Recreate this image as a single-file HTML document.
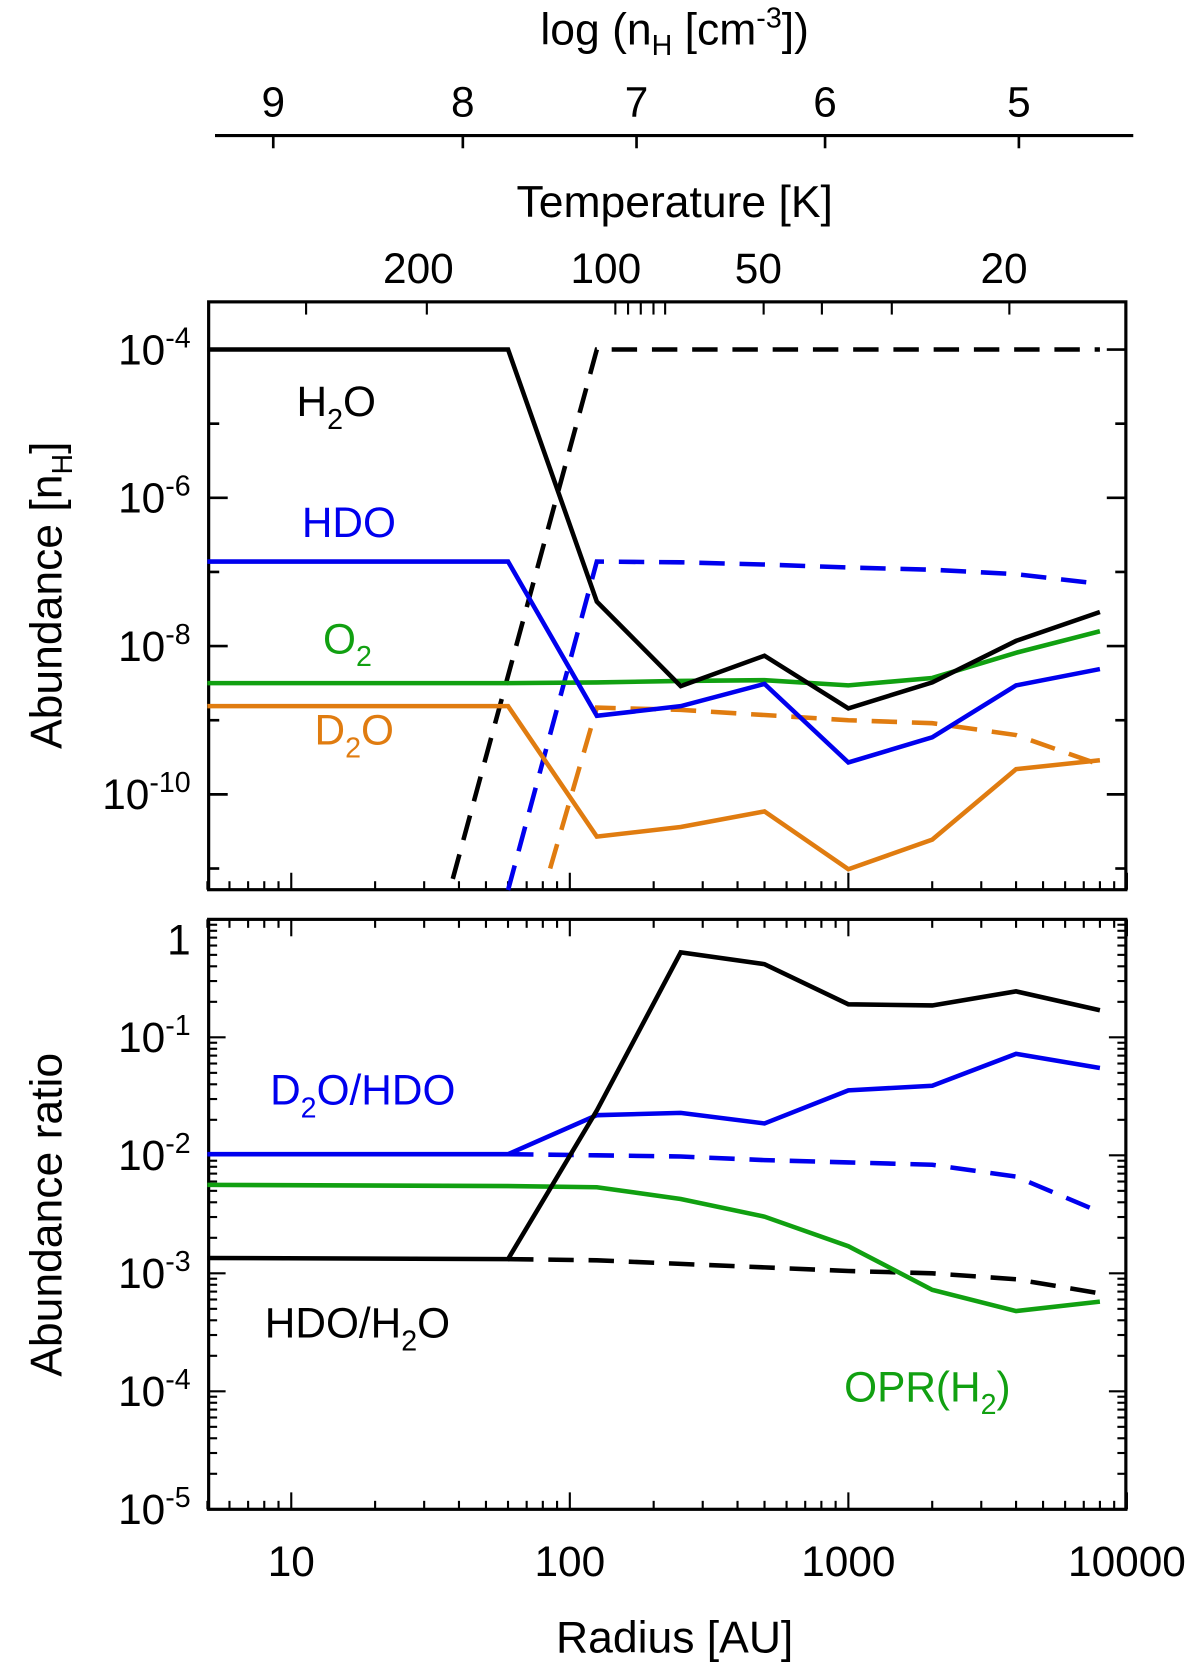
<!DOCTYPE html>
<html><head><meta charset="utf-8"><style>
html,body{margin:0;padding:0;background:#fff;}
svg{display:block;}
text{font-family:"Liberation Sans Narrow","Liberation Sans",sans-serif;}
</style></head><body>
<svg id="fig" width="1200" height="1665" viewBox="0 0 1133 1572" preserveAspectRatio="none" xmlns="http://www.w3.org/2000/svg">
<g id="static">
  <text x="637" y="42" font-size="42" text-anchor="middle">log (n<tspan font-size="27" dy="10">H</tspan><tspan dy="-10"> [cm</tspan><tspan font-size="27" dy="-16">-3</tspan><tspan dy="16">])</tspan></text>
  <line x1="203" y1="128" x2="1070" y2="128" stroke="#000" stroke-width="3"/>
  <text x="637" y="205" font-size="42" text-anchor="middle">Temperature [K]</text>
  <text transform="translate(58,562) rotate(-90)" font-size="42" text-anchor="middle">Abundance [n<tspan font-size="27" dy="10">H</tspan><tspan dy="-10">]</tspan></text>
  <text transform="translate(58,1147) rotate(-90)" font-size="42" text-anchor="middle">Abundance ratio</text>
  <text x="637" y="1560" font-size="42" text-anchor="middle">Radius [AU]</text>
  <text x="280" y="393" font-size="40">H<tspan font-size="27" dy="12">2</tspan><tspan dy="-12">O</tspan></text>
  <text x="285" y="507" font-size="40" fill="#0000ee">HDO</text>
  <text x="305" y="617" font-size="40" fill="#11a011">O<tspan font-size="27" dy="12">2</tspan></text>
  <text x="297" y="703" font-size="40" fill="#e07c10">D<tspan font-size="27" dy="12">2</tspan><tspan dy="-12">O</tspan></text>
  <text x="255" y="1043" font-size="40" fill="#0000ee">D<tspan font-size="27" dy="12">2</tspan><tspan dy="-12">O/HDO</tspan></text>
  <text x="250" y="1263" font-size="40">HDO/H<tspan font-size="27" dy="12">2</tspan><tspan dy="-12">O</tspan></text>
  <text x="797" y="1323" font-size="40" fill="#11a011">OPR(H<tspan font-size="27" dy="12">2</tspan><tspan dy="-12">)</tspan></text>
</g>
<g id="dyn"></g>
</svg>
<script>
// ---- data ----
const radii = [5, 60, 125, 250, 500, 1000, 2000, 4000, 8000];
const h2oSolid = [-4, -4, -7.4, -8.54, -8.13, -8.84, -8.49, -7.93, -7.54];
const h2oDashR = [38, 125, 250, 500, 1000, 2000, 4000, 8000];
const h2oDash = [-11.14, -4, -4, -4, -4, -4, -4, -4];
const hdoSolid = [-6.86, -6.86, -8.94, -8.81, -8.51, -9.57, -9.23, -8.53, -8.31];
const hdoDashR = [60, 125, 250, 500, 1000, 2000, 4000, 8000];
const hdoDash = [-11.29, -6.86, -6.87, -6.9, -6.94, -6.97, -7.03, -7.16];
const o2Solid = [-8.5, -8.5, -8.49, -8.47, -8.46, -8.53, -8.43, -8.09, -7.8];
const d2oSolid = [-8.81, -8.81, -10.57, -10.44, -10.23, -11.01, -10.61, -9.66, -9.54];
const d2oDashR = [85, 125, 250, 500, 1000, 2000, 4000, 8000];
const d2oDash = [-11.0, -8.83, -8.86, -8.93, -9.0, -9.04, -9.2, -9.6];
const hdoH2oSolid = [-2.87, -2.88, -1.62, -0.28, -0.38, -0.72, -0.73, -0.61, -0.77];
const ratR = [60, 125, 250, 500, 1000, 2000, 4000, 8000];
const hdoH2oDash = [-2.88, -2.89, -2.92, -2.95, -2.98, -3.0, -3.05, -3.17];
const d2oHdoSolid = [-1.99, -1.99, -1.66, -1.64, -1.73, -1.45, -1.41, -1.14, -1.26];
const d2oHdoDash = [-1.99, -2.0, -2.01, -2.04, -2.06, -2.08, -2.18, -2.48];
const oprSolid = [-2.25, -2.26, -2.27, -2.37, -2.52, -2.77, -3.14, -3.32, -3.24];
const xTickVals = [10, 100, 1000, 10000];
const xTickLabels = ["10", "100", "1000", "10000"];
const nhTicks = [9, 8, 7, 6, 5];
const nhTickX = [258, 437, 601, 779, 962];
const tempLabels = ["200", "100", "50", "20"];
const tempLabelX = [395, 572, 716, 948];

// ---- axes ----
const L = 197, R = 1063;
function X(r) { return 275 + 263 * (Math.log10(r) - 1); }
function YT(v) { return 330 + (-4 - v) * 70; }
function YB(v) { return 868 + (-v) * 111.4; }
const TOP = [285, 840], BOT = [868, 1425];
const NS = "http://www.w3.org/2000/svg";
const g = document.getElementById('dyn');
function mk(tag, attrs) { const e = document.createElementNS(NS, tag); for (const k in attrs) e.setAttribute(k, attrs[k]); g.appendChild(e); return e; }
function line(x1, y1, x2, y2, w) { return mk('line', {x1, y1, x2, y2, stroke: '#000', 'stroke-width': w || 2.5}); }

[TOP, BOT].forEach((p, i) => {
  const r = mk('rect', {x: L, y: p[0], width: R - L, height: p[1] - p[0], fill: 'none', stroke: '#000', 'stroke-width': 3});
  
  
  for (let d = 0; d <= 4; d++) {
    for (let m = 1; m <= 9; m++) {
      const v = m * Math.pow(10, d);
      if (v < 5 || v > 10000) continue;
      const x = X(v), len = m === 1 ? 16 : 8;
      line(x, p[1], x, p[1] - len, 2);
      if (i === 1) line(x, p[0], x, p[0] + len, 2);
    }
  }
});
[289, 403, 581, 593, 605, 617, 628, 721, 776, 842, 953].forEach(x => line(x, TOP[0], x, TOP[0] + 12, 2));
for (let v = -4; v >= -11; v--) {
  const y = YT(v), len = (v % 2 === 0) ? 18 : 10;
  line(L, y, L + len, y, 2.5); line(R, y, R - len, y, 2.5);
}
for (let v = -4; v >= -10; v -= 2) {
  const t = mk('text', {x: 180, y: YT(v) + 14, 'font-size': 40, 'text-anchor': 'end'});
  
  
  t.innerHTML = '10<tspan font-size="27" dy="-16">' + v + '</tspan>';
}
for (let d = 0; d >= -4; d--) {
  for (let m = 1; m <= 9; m++) {
    const yy = m === 1 ? YB(d) : YB(d - 1 + Math.log10(m));
    if (yy > BOT[1] || yy < BOT[0]) continue;
    const len = m === 1 ? 16 : 8;
    line(L, yy, L + len, yy, 2); line(R, yy, R - len, yy, 2);
  }
}
for (let d = 0; d >= -5; d--) {
  const t = mk('text', {x: 180, y: YB(d) + (d === 0 ? 33 : 14), 'font-size': 40, 'text-anchor': 'end'});
  
  
  t.innerHTML = d === 0 ? '1' : '10<tspan font-size="27" dy="-16">' + d + '</tspan>';
}
xTickVals.forEach((v, i) => {
  const t = mk('text', {x: X(v), y: 1488, 'font-size': 40, 'text-anchor': 'middle'});
  
  
  t.textContent = xTickLabels[i];
});
nhTicks.forEach((v, i) => {
  line(nhTickX[i], 128, nhTickX[i], 140, 2.5);
  const t = mk('text', {x: nhTickX[i], y: 110, 'font-size': 40, 'text-anchor': 'middle'});
  
  
  t.textContent = v;
});
tempLabels.forEach((s, i) => {
  const t = mk('text', {x: tempLabelX[i], y: 267, 'font-size': 40, 'text-anchor': 'middle'});
  
  
  t.textContent = s;
});

// ---- series ----
function series(xs, vs, yf, color, dashed, name) {
  const pts = xs.map((r, i) => X(r).toFixed(1) + ',' + yf(vs[i]).toFixed(1)).join(' ');
  const p = mk('polyline', {points: pts, fill: 'none', stroke: color, 'stroke-width': 4.3, 'stroke-linejoin': 'miter'});
  if (dashed) p.setAttribute('stroke-dasharray', '24 14');
  
  
}
const BK = '#000', BL = '#0000ee', GR = '#11a011', OR = '#e07c10';
series(h2oDashR, h2oDash, YT, BK, true, 'h2o-dashed-line');
series(hdoDashR, hdoDash, YT, BL, true, 'hdo-dashed-line');
series(d2oDashR, d2oDash, YT, OR, true, 'd2o-dashed-line');
series(radii, o2Solid, YT, GR, false, 'o2-line');
series(radii, d2oSolid, YT, OR, false, 'd2o-line');
series(radii, hdoSolid, YT, BL, false, 'hdo-line');
series(radii, h2oSolid, YT, BK, false, 'h2o-line');
series(ratR, hdoH2oDash, YB, BK, true, 'hdo-h2o-dashed-line');
series(ratR, d2oHdoDash, YB, BL, true, 'd2o-hdo-dashed-line');
series(radii, oprSolid, YB, GR, false, 'opr-line');
series(radii, d2oHdoSolid, YB, BL, false, 'd2o-hdo-line');
series(radii, hdoH2oSolid, YB, BK, false, 'hdo-h2o-line');
</script>
</body></html>
